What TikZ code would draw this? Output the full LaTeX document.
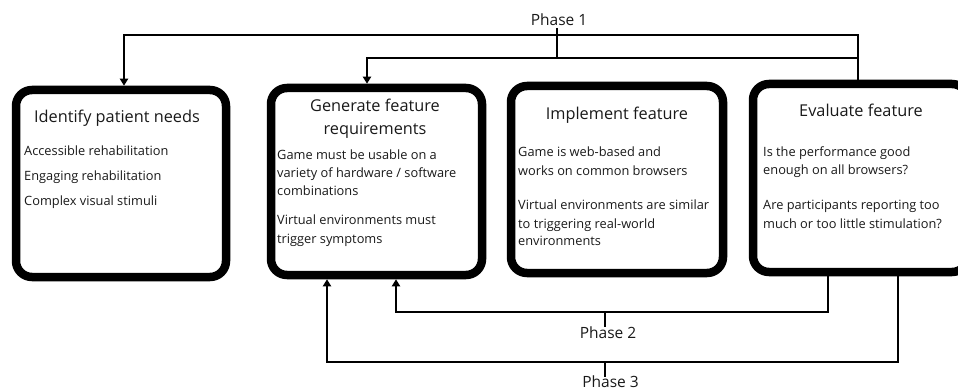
\documentclass[tikz,border=0pt]{standalone}
\usepackage{fontspec}
\setmainfont{Open Sans}
\usetikzlibrary{arrows.meta}
\begin{document}
\begin{tikzpicture}[x=1pt,y=-1pt,
  box/.style={draw=black,line width=8.5pt,rounded corners=16pt,minimum width=#1,inner sep=0pt,outer sep=4.25pt},
  conn/.style={draw=black,line width=2pt},
  arr/.style={conn,-{Triangle[width=8pt,length=7pt]}},
  ttl/.style={anchor=base,inner sep=0pt,font=\fontsize{16.3}{20}\selectfont,text=black!90},
  txt/.style={anchor=base west,inner sep=0pt,font=\fontsize{12.8}{18}\selectfont,text=black!90},
  ph/.style={anchor=base,inner sep=0pt,font=\fontsize{15.5}{18}\selectfont,text=black!90}]
\useasboundingbox (0,0) rectangle (958,390);

% boxes
\node[box=210pt,minimum height=187pt] (b1) at (121,183.5) {};
\node[box=211pt,minimum height=187pt] (b2) at (376.5,181.5) {};
\node[box=212pt,minimum height=187pt] (b3) at (617,179.5) {};
\node[box=215pt,minimum height=188pt] (b4) at (860.5,178) {};

% box 1 text
\node[ttl] (t1) at (117,123) {Identify patient needs};
\node[txt] (l11) at (24,156) {Accessible rehabilitation};
\node[txt] (l12) at (24,180.5) {Engaging rehabilitation};
\node[txt] (l13) at (24,205) {Complex visual stimuli};

% box 2 text
\node[ttl] (t2a) at (375,112) {Generate feature};
\node[ttl] (t2b) at (375,135) {requirements};
\node[txt] (l21) at (277,160) {Game must be usable on a};
\node[txt] (l22) at (277,178) {variety of hardware / software};
\node[txt] (l23) at (277,195.5) {combinations};
\node[txt] (l24) at (277,225) {Virtual environments must};
\node[txt] (l25) at (277,243) {trigger symptoms};

% box 3 text
\node[ttl] (t3) at (617,120) {Implement feature};
\node[txt] (l31) at (518,157) {Game is web-based and};
\node[txt] (l32) at (518,175.5) {works on common browsers};
\node[txt] (l33) at (518,210) {Virtual environments are similar};
\node[txt] (l34) at (518,228) {to triggering real-world};
\node[txt] (l35) at (518,245.5) {environments};

% box 4 text
\node[ttl] (t4) at (861,117) {Evaluate feature};
\node[txt] (l41) at (763,157) {Is the performance good};
\node[txt] (l42) at (763,175) {enough on all browsers?};
\node[txt] (l43) at (763,210) {Are participants reporting too};
\node[txt] (l44) at (763,228) {much or too little stimulation?};

% phase labels
\node[ph] (ph1) at (559,26) {Phase 1};
\node[ph] (ph2) at (608,338) {Phase 2};
\node[ph] (ph3) at (610.5,387) {Phase 3};

% junction coordinates
\coordinate (u1R) at (858,35);
\coordinate (u1L) at (124,35);
\coordinate (u2R) at (858,58);
\coordinate (u2L) at (367,58);
\coordinate (k1) at (557,28);
\coordinate (d2R) at (828,312);
\coordinate (d2L) at (396,312);
\coordinate (d3R) at (898,362);
\coordinate (d3L) at (327,362);
\coordinate (k2) at (605,327);
\coordinate (k3) at (605,377);

% phase 1
\draw[arr] (b4.north -| u1R) -- (u1R) -- (u1L) -- (u1L |- b1.north);
\draw[arr] (u2R) -- (u2L) -- (u2L |- b2.north);
\draw[conn] (k1) -- (k1 |- u2R);

% phase 2
\draw[arr] (b4.south -| d2R) -- (d2R) -- (d2L) -- (d2L |- b2.south);
\draw[conn] (k2 |- d2R) -- (k2);

% phase 3
\draw[arr] (b4.south -| d3R) -- (d3R) -- (d3L) -- (d3L |- b2.south);
\draw[conn] (k3 |- d3R) -- (k3);
\end{tikzpicture}
\end{document}
